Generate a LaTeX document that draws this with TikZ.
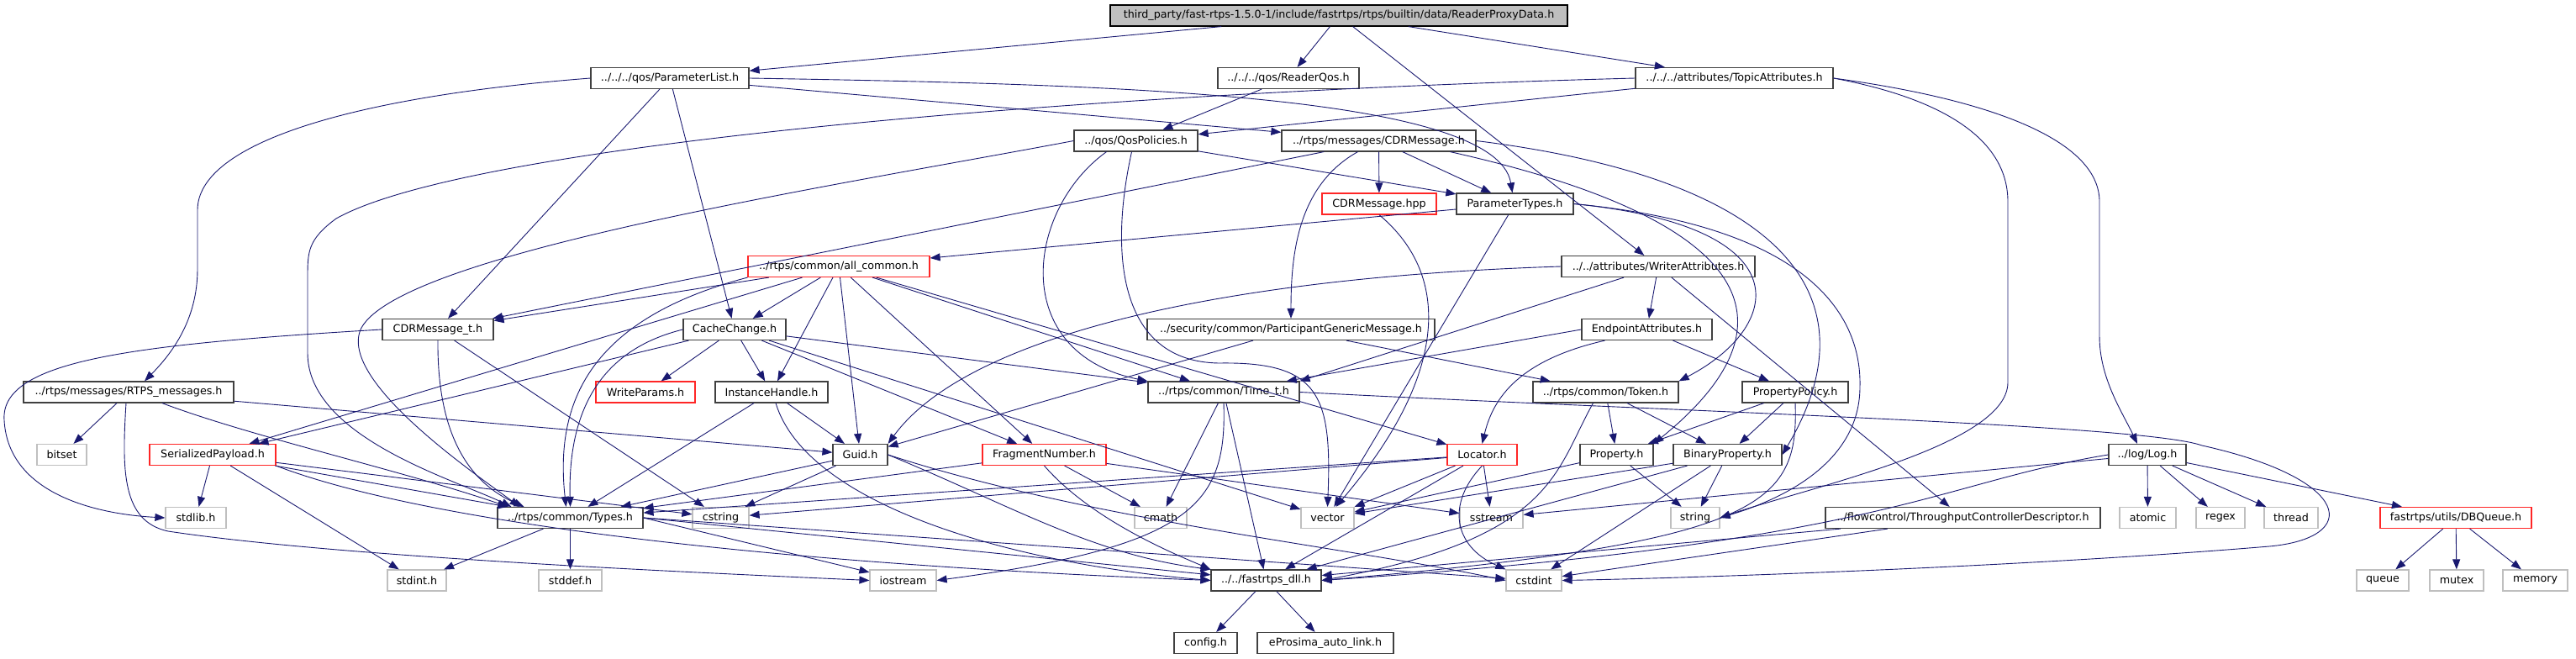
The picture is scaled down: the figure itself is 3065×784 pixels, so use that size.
\documentclass[tikz,border=0pt]{standalone}
\usepackage{fontspec}
\setmainfont{DejaVu Sans}
\usetikzlibrary{arrows.meta}
\definecolor{edgeblue}{HTML}{191970}
\definecolor{grey75}{HTML}{BFBFBF}

\begin{document}
\begin{tikzpicture}[x=1pt, y=-1pt,
  >={Triangle[length=12pt,width=9pt]},
  hfile/.style={draw=black!75, line width=1.2pt, minimum height=25pt,
    inner sep=1pt, font=\fontsize{12.7}{14}\selectfont},
  sysfile/.style={hfile, draw=grey75},
  redfile/.style={hfile, draw=red!85!white},
  dep/.style={->, draw=edgeblue, line width=0.9pt}
]
\useasboundingbox (0,0) rectangle (3065,784);
% ---- row 0: the documented header ----
\node[hfile, fill=grey75, draw=black, minimum width=544] (top) at (1593,18.5)
  {third\_party/fast-rtps-1.5.0-1/include/fastrtps/rtps/builtin/data/ReaderProxyData.h};
% ---- rows 1 to 4 ----
\node[hfile, minimum width=188] (plist) at (797,93) {../../../qos/ParameterList.h};
\node[hfile, minimum width=168] (rqos) at (1533,93) {../../../qos/ReaderQos.h};
\node[hfile, minimum width=235] (topic) at (2063.5,93) {../../../attributes/TopicAttributes.h};
\node[hfile, minimum width=147] (qosp) at (1351.5,167.5) {../qos/QosPolicies.h};
\node[hfile, minimum width=231] (cdrmsg) at (1640.5,167.5) {../rtps/messages/CDRMessage.h};
\node[redfile, minimum width=136] (cdrhpp) at (1641,242.5) {CDRMessage.hpp};
\node[hfile, minimum width=139] (ptypes) at (1802.5,242.5) {ParameterTypes.h};
\node[redfile, minimum width=216] (allc) at (998,317) {../rtps/common/all\_common.h};
\node[hfile, minimum width=230] (wattr) at (1973,317) {../../attributes/WriterAttributes.h};
% ---- row 5 ----
\node[hfile, minimum width=132] (cdrt) at (521,392) {CDRMessage\_t.h};
\node[hfile, minimum width=122] (cache) at (874,392) {CacheChange.h};
\node[hfile, minimum width=342] (pgm) at (1536,392) {../security/common/ParticipantGenericMessage.h};
\node[hfile, minimum width=155] (eattr) at (1959.5,392) {EndpointAttributes.h};
% ---- row 6 ----
\node[hfile, minimum width=250] (rtpsm) at (153,466.5) {../rtps/messages/RTPS\_messages.h};
\node[redfile, minimum width=118] (wparams) at (768,466.5) {WriteParams.h};
\node[hfile, minimum width=134] (ihandle) at (918,466.5) {InstanceHandle.h};
\node[hfile, minimum width=180] (timet) at (1456,466.5) {../rtps/common/Time\_t.h};
\node[hfile, minimum width=173] (token) at (1910.5,466.5) {../rtps/common/Token.h};
\node[hfile, minimum width=126] (ppolicy) at (2136,466.5) {PropertyPolicy.h};
% ---- row 7 ----
\node[sysfile, minimum width=59] (bitset) at (73.5,541) {bitset};
\node[redfile, minimum width=150] (spayload) at (253,541) {SerializedPayload.h};
\node[hfile, minimum width=65] (guid) at (1023.5,541) {Guid.h};
\node[redfile, minimum width=147] (fragn) at (1242.5,541) {FragmentNumber.h};
\node[redfile, minimum width=83] (locator) at (1763.5,541) {Locator.h};
\node[hfile, minimum width=87] (prop) at (1923.5,541) {Property.h};
\node[hfile, minimum width=129] (bprop) at (2055.5,541) {BinaryProperty.h};
\node[hfile, minimum width=92] (log) at (2555,541) {../log/Log.h};
% ---- row 8 ----
\node[sysfile, minimum width=72] (stdlib) at (233,616) {stdlib.h};
\node[hfile, minimum width=173] (types) at (678.5,616) {../rtps/common/Types.h};
\node[sysfile, minimum width=67] (cstring) at (857.5,616) {cstring};
\node[sysfile, minimum width=62] (cmath) at (1381,616) {cmath};
\node[sysfile, minimum width=63] (vector) at (1579.5,616) {vector};
\node[sysfile, minimum width=75] (sstream) at (1774.5,616) {sstream};
\node[sysfile, minimum width=58] (string) at (2017,616) {string};
\node[hfile, minimum width=327] (tcd) at (2335.5,616) {../flowcontrol/ThroughputControllerDescriptor.h};
\node[sysfile, minimum width=67] (atomic) at (2555.5,616) {atomic};
\node[sysfile, minimum width=58] (regex) at (2642,616) {regex};
\node[sysfile, minimum width=64] (thread) at (2726,616) {thread};
\node[redfile, minimum width=180] (dbq) at (2922,616) {fastrtps/utils/DBQueue.h};
% ---- row 9 and 10 ----
\node[sysfile, minimum width=70] (stdint) at (496,690.5) {stdint.h};
\node[sysfile, minimum width=75] (stddef) at (678.5,690.5) {stddef.h};
\node[sysfile, minimum width=79] (iostream) at (1074.5,690.5) {iostream};
\node[hfile, minimum width=131] (dll) at (1506.5,690.5) {../../fastrtps\_dll.h};
\node[sysfile, minimum width=66] (cstdint) at (1825,690.5) {cstdint};
\node[sysfile, minimum width=62] (queue) at (2835,690.5) {queue};
\node[sysfile, minimum width=64] (mutex) at (2923,690.5) {mutex};
\node[sysfile, minimum width=77] (memory) at (3016.5,690.5) {memory};
\node[hfile, minimum width=75] (config) at (1434.5,765) {config.h};
\node[hfile, minimum width=162] (autolink) at (1577,765) {eProsima\_auto\_link.h};

% ---- includes of the top header ----
\draw[dep] (top) -- (plist);
\draw[dep] (top) -- (rqos);
\draw[dep] (top) -- (wattr);
\draw[dep] (top) -- (topic);
% ---- ParameterList, ReaderQos, TopicAttributes ----
\draw[dep] (plist.west) .. controls (420,115) and (235,170) .. (235,250)
  -- (235,320) .. controls (235,380) and (205,420) .. ([xshift=19pt]rtpsm.north);
\draw[dep] (plist) -- (cdrt);
\draw[dep] (plist) -- (cache);
\draw[dep] (plist) -- (cdrmsg);
\draw[dep] (plist.east) .. controls (1300,100) and (1780,110) .. ([xshift=-3pt]ptypes.north);
\draw[dep] (rqos) -- (qosp);
\draw[dep] (topic) -- (qosp);
\draw[dep] (topic.west) .. controls (1300,110) and (560,170) .. (400,260)
  .. controls (366,285) and (366,300) .. (366,330) -- (366,420)
  .. controls (366,520) and (540,570) .. ([xshift=-70pt]types.north);
\draw[dep] (topic.east) .. controls (2300,115) and (2389,160) .. (2389,240)
  -- (2389,455) .. controls (2389,530) and (2150,580) .. (string.east);
\draw[dep] (topic.east) .. controls (2380,120) and (2498,170) .. (2498,240)
  -- (2498,400) .. controls (2498,450) and (2525,490) .. ([xshift=-12pt]log.north);
% ---- QosPolicies ----
\draw[dep] (qosp) -- (ptypes);
\draw[dep] (qosp.west) .. controls (1000,220) and (480,300) .. (430,390)
  .. controls (400,450) and (560,560) .. ([xshift=-60pt]types.north);
\draw[dep] ([xshift=-35pt]qosp.south) .. controls (1220,250) and (1200,420) .. (timet.north west);
\draw[dep] ([xshift=-5pt]qosp.south) .. controls (1320,300) and (1330,430) .. (1450,432)
  .. controls (1570,430) and (1585,470) .. (vector.north);
% ---- CDRMessage.h ----
\draw[dep] (cdrmsg) -- (cdrhpp);
\draw[dep] (cdrmsg) -- (ptypes);
\draw[dep] ([xshift=-25pt]cdrmsg.south) .. controls (1545,220) and (1536,300) .. (pgm.north);
\draw[dep] (cdrmsg) -- (cdrt);
\draw[dep] ([xshift=85pt]cdrmsg.south) .. controls (2080,260) and (2150,380) .. (prop.north east);
\draw[dep] (cdrmsg.east) .. controls (2100,210) and (2240,340) .. (bprop.east);
% ---- ParameterTypes, CDRMessage.hpp ----
\draw[dep] (ptypes) -- (allc);
\draw[dep] (ptypes) -- (vector);
\draw[dep] (ptypes.east) .. controls (2150,270) and (2120,390) .. (token.north east);
\draw[dep] (ptypes.east) .. controls (2160,270) and (2215,380) .. (2213,460)
  .. controls (2213,560) and (2100,600) .. (string.east);
\draw[dep] (cdrhpp.south) .. controls (1730,330) and (1720,450) .. ([xshift=10pt]vector.north);
% ---- WriterAttributes ----
\draw[dep] (wattr.west) .. controls (1450,330) and (1150,400) .. (guid.north east);
\draw[dep] (wattr) -- (timet.north east);
\draw[dep] (wattr) -- (eattr);
\draw[dep] (wattr) -- (tcd);
% ---- all_common ----
\draw[dep] (allc) -- (cdrt);
\draw[dep] (allc) -- (cache);
\draw[dep] (allc) -- (ihandle);
\draw[dep] (allc) -- (guid);
\draw[dep] (allc) -- (fragn);
\draw[dep] (allc) -- (timet);
\draw[dep] (allc) -- (locator);
\draw[dep] (allc) -- (spayload);
\draw[dep] (allc.south west) .. controls (700,380) and (660,480) .. ([xshift=-5pt]types.north);
% ---- CDRMessage_t, CacheChange ----
\draw[dep] (cdrt.west) .. controls (150,410) and (0,430) .. (5,500)
  .. controls (10,590) and (120,612) .. (stdlib.west);
\draw[dep] (cdrt.south) .. controls (520,520) and (560,575) .. ([xshift=-55pt]types.north);
\draw[dep] (cdrt) -- (cstring);
\draw[dep] (cache) -- (wparams);
\draw[dep] (cache) -- (ihandle);
\draw[dep] (cache) -- (fragn);
\draw[dep] (cache) -- (timet);
\draw[dep] (cache) -- (spayload);
\draw[dep] (cache) -- (vector);
\draw[dep] (cache.west) .. controls (740,410) and (675,460) .. (types.north);
% ---- RTPS_messages, InstanceHandle, Time_t ----
\draw[dep] (rtpsm) -- (bitset);
\draw[dep] ([xshift=-3pt]rtpsm.south) .. controls (145,560) and (145,620) .. (200,632)
  .. controls (400,662) and (800,680) .. (iostream.west);
\draw[dep] ([xshift=40pt]rtpsm.south) .. controls (300,520) and (480,560) .. ([xshift=-74pt]types.north);
\draw[dep] (rtpsm) -- (guid);
\draw[dep] (ihandle) -- (types);
\draw[dep] (ihandle) -- (guid);
\draw[dep] ([xshift=5pt]ihandle.south) .. controls (960,600) and (1200,670) .. (dll.west);
\draw[dep] (timet) -- (cmath);
\draw[dep] (timet.south) .. controls (1460,600) and (1420,650) .. (iostream.east);
\draw[dep] (timet) -- (dll);
\draw[dep] (timet.east) .. controls (2000,490) and (2550,505) .. (2620,530)
  .. controls (2800,570) and (2810,640) .. (2700,650)
  .. controls (2400,675) and (2000,688) .. (cstdint.east);
% ---- Token, PropertyPolicy, EndpointAttributes, ParticipantGenericMessage ----
\draw[dep] (token) -- (prop);
\draw[dep] (token) -- (bprop);
\draw[dep] ([xshift=-15pt]token.south) .. controls (1850,560) and (1850,640) .. (dll.east);
\draw[dep] (ppolicy) -- (prop);
\draw[dep] (ppolicy) -- (bprop);
\draw[dep] (ppolicy.south) .. controls (2140,600) and (2100,645) .. (dll.east);
\draw[dep] ([xshift=-50pt]eattr.south) .. controls (1800,430) and (1775,480) .. (locator.north);
\draw[dep] (eattr) -- (ppolicy);
\draw[dep] (eattr.west) -- (timet);
\draw[dep] (pgm) -- (guid);
\draw[dep] (pgm) -- (token);
% ---- SerializedPayload, Guid, FragmentNumber, Locator ----
\draw[dep] (spayload) -- (stdlib);
\draw[dep] (spayload) -- (stdint);
\draw[dep] (spayload) -- (types);
\draw[dep] (spayload) -- (cstring);
\draw[dep] (spayload.south east) .. controls (500,620) and (900,670) .. (dll.west);
\draw[dep] (guid) -- (types);
\draw[dep] (guid) -- (cstring);
\draw[dep] (guid.east) .. controls (1200,600) and (1300,660) .. (dll.north west);
\draw[dep] (guid.east) .. controls (1300,620) and (1600,650) .. (cstdint.west);
\draw[dep] (fragn) -- (types);
\draw[dep] (fragn.south) .. controls (1300,620) and (1400,660) .. (dll.north west);
\draw[dep] (fragn) -- (cmath);
\draw[dep] (fragn) -- (sstream);
\draw[dep] (locator) -- (types);
\draw[dep] (locator) -- (cstring);
\draw[dep] (locator) -- (vector);
\draw[dep] (locator) -- (sstream);
\draw[dep] (locator) -- (dll);
\draw[dep] (locator.south) .. controls (1720,600) and (1730,650) .. (cstdint.north west);
% ---- Property, BinaryProperty ----
\draw[dep] (prop) -- (string);
\draw[dep] (prop) -- (vector);
\draw[dep] (bprop) -- (string);
\draw[dep] (bprop) -- (vector);
\draw[dep] (bprop) -- (cstdint);
\draw[dep] (bprop) -- (dll);
% ---- Log, DBQueue, flowcontrol ----
\draw[dep] (log) -- (sstream);
\draw[dep] (log.west) .. controls (2300,575) and (2250,645) .. (dll.east);
\draw[dep] (log) -- (atomic);
\draw[dep] (log) -- (regex);
\draw[dep] (log) -- (thread);
\draw[dep] (log) -- (dbq);
\draw[dep] (dbq) -- (queue);
\draw[dep] (dbq) -- (mutex);
\draw[dep] (dbq) -- (memory);
\draw[dep] (tcd) -- (dll);
\draw[dep] (tcd) -- (cstdint);
% ---- Types, fastrtps_dll ----
\draw[dep] (types) -- (stdint);
\draw[dep] (types) -- (stddef);
\draw[dep] (types.east) -- (iostream);
\draw[dep] (types.east) -- (dll);
\draw[dep] (types.east) -- (cstdint);
\draw[dep] (dll) -- (config);
\draw[dep] (dll) -- (autolink);
\end{tikzpicture}
\end{document}
